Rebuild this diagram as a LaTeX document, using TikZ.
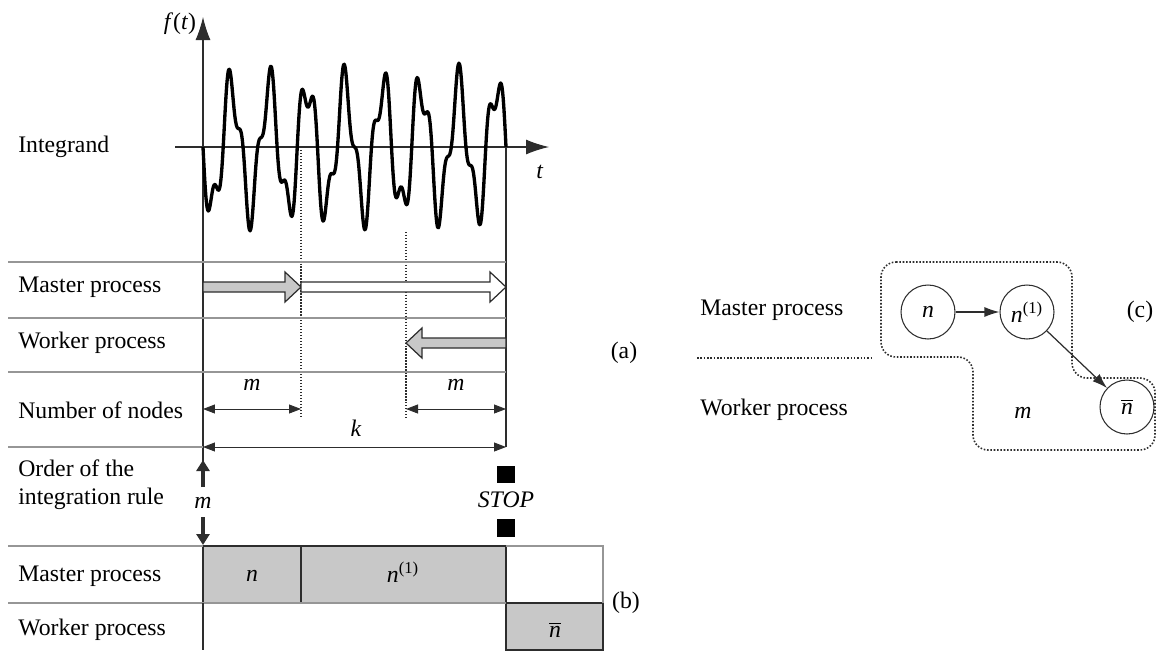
\documentclass[tikz,border=0pt]{standalone}
\usepackage{fontspec}
\setmainfont{Liberation Serif}
\usetikzlibrary{arrows.meta,positioning}
\definecolor{cellgray}{RGB}{200,200,200}
\definecolor{ink}{RGB}{45,45,45}
\definecolor{rule}{RGB}{150,150,150}

\begin{document}
\begin{tikzpicture}[x=0.02cm,y=-0.02cm,
  every node/.style={font=\fontsize{13.5}{16}\selectfont},
  lbl/.style={anchor=west,inner sep=0pt},
  rowline/.style={draw=rule,line width=0.6pt},
  axisline/.style={draw=ink,line width=0.6pt},
  dimarrow/.style={draw=ink,line width=0.5pt,{Triangle[length=0.24cm,width=0.18cm]}-{Triangle[length=0.24cm,width=0.18cm]}},
  procarrow/.style={draw=ink,line width=0.7pt},
  proc/.style={circle,draw=ink,line width=0.6pt,minimum size=1.08cm,inner sep=0pt}]
\useasboundingbox (0,0) rectangle (1157,650);
% integrand
\draw[axisline,-{Latex[length=0.46cm,width=0.3cm]}] (175,147) -- (549,147);
\draw[axisline,-{Latex[length=0.46cm,width=0.3cm]}] (203,462) -- (203,17);
\node (ft) at (180,24) {\textit{f}(\textit{t})};
\node (tlab) at (540,172) {\textit{t}};
\node[lbl] (integrand) at (18,147) {Integrand};
\draw[line width=1.9pt,line join=round] plot[domain=0:303,samples=400,smooth]
  ({203+\x},{147+62*sin(9.50495*\x)+22*sin(24.9505*\x)});
\draw[axisline] (506,147) -- (506,447);
\draw[ink,densely dotted,line width=0.7pt] (301,150) -- (301,418);
\draw[ink,densely dotted,line width=0.7pt] (406,232) -- (406,418);
% row lines
\foreach \y in {262,318,372}
  \draw[rowline] (8,\y) -- (506,\y);
\draw[rowline] (8,447) -- (203,447);
% Master process row (a)
\node[lbl] (mp) at (18,287) {Master process};
\draw[procarrow,fill=cellgray] (203,282) -- (285,282) -- (285,272) -- (301,287) -- (285,302) -- (285,292) -- (203,292) -- cycle;
\draw[procarrow,fill=white] (301,282) -- (490,282) -- (490,272) -- (506,287) -- (490,302) -- (490,292) -- (301,292) -- cycle;
% Worker process row (a)
\node[lbl] (wp) at (18,343) {Worker process};
\draw[procarrow,fill=cellgray] (506,338) -- (422,338) -- (422,328) -- (406,343) -- (422,358) -- (422,348) -- (506,348) -- cycle;
% Number of nodes
\node[lbl] (nn) at (18,410) {Number of nodes};
\draw[dimarrow] (203,409) -- (301,409);
\draw[dimarrow] (406,409) -- (506,409);
\node (m1) at (252,385) {\textit{m}};
\node (m2) at (456,385) {\textit{m}};
\draw[dimarrow] (203,447) -- (506,447);
\node (klab) at (356,428) {\textit{k}};
\node (alab) at (624,353) {(a)};
% Order of the integration rule
\node[lbl,align=left] (order) at (18,485) {Order of the\\integration rule};
\draw[ink,line width=2.6pt,-{Triangle[length=0.22cm,width=0.26cm]}] (203,487) -- (203,460);
\node (m3) at (203,503) {\textit{m}};
\draw[ink,line width=2.6pt,-{Triangle[length=0.22cm,width=0.26cm]}] (203,517) -- (203,545);
\fill[black] (497,466) rectangle (515,483);
\node (stop) at (506,500) {\textit{STOP}};
\fill[black] (497,519) rectangle (515,537);
% Master / worker table (b)
\draw[ink,line width=0.6pt,fill=cellgray] (203,546) rectangle (301,603);
\draw[ink,line width=0.6pt,fill=cellgray] (301,546) rectangle (506,603);
\draw[ink,line width=0.6pt,fill=cellgray] (506,603) rectangle (603,650);
\draw[rowline] (8,546) -- (203,546);
\draw[rowline] (506,546) -- (603,546) -- (603,603);
\draw[rowline] (8,603) -- (203,603);
\draw[rowline] (203,603) -- (506,603);
\draw[axisline] (203,603) -- (203,650);
\node[lbl] (mpb) at (18,576) {Master process};
\node[lbl] (wpb) at (18,630) {Worker process};
\node (bn) at (252,576) {\textit{n}};
\node (bn1) at (403,572) {\textit{n}\textsuperscript{(1)}};
\node (bnb) at (555,630) {$\overline{\textit{n}}$};
\node (blab) at (626,603) {(b)};
% graph (c)
\node[lbl] (mpc) at (700,310) {Master process};
\node[lbl] (wpc) at (700,410) {Worker process};
\draw[ink,densely dotted,line width=0.9pt] (697,358) -- (873,358);
\draw[ink,densely dotted,line width=0.9pt,rounded corners=0.3cm]
  (881,262) -- (1072,262) -- (1072,378) -- (1155,378) -- (1155,450) -- (973,450) -- (973,357) -- (881,357) -- cycle;
\node[proc] (cn) at (928,312) {\textit{n}};
\node[proc] (cn1) at (1027,312) {\textit{n}\textsuperscript{(1)}};
\node[proc] (cnb) at (1127,407) {$\overline{\textit{n}}$};
\draw[ink,line width=0.7pt,-{Latex[length=0.3cm,width=0.2cm]}] (cn) -- (cn1);
\draw[ink,line width=0.7pt,-{Latex[length=0.3cm,width=0.2cm]}] (cn1) -- (cnb);
\node (cm) at (1023,413) {\textit{m}};
\node (clab) at (1140,312) {(c)};
\end{tikzpicture}
\end{document}
